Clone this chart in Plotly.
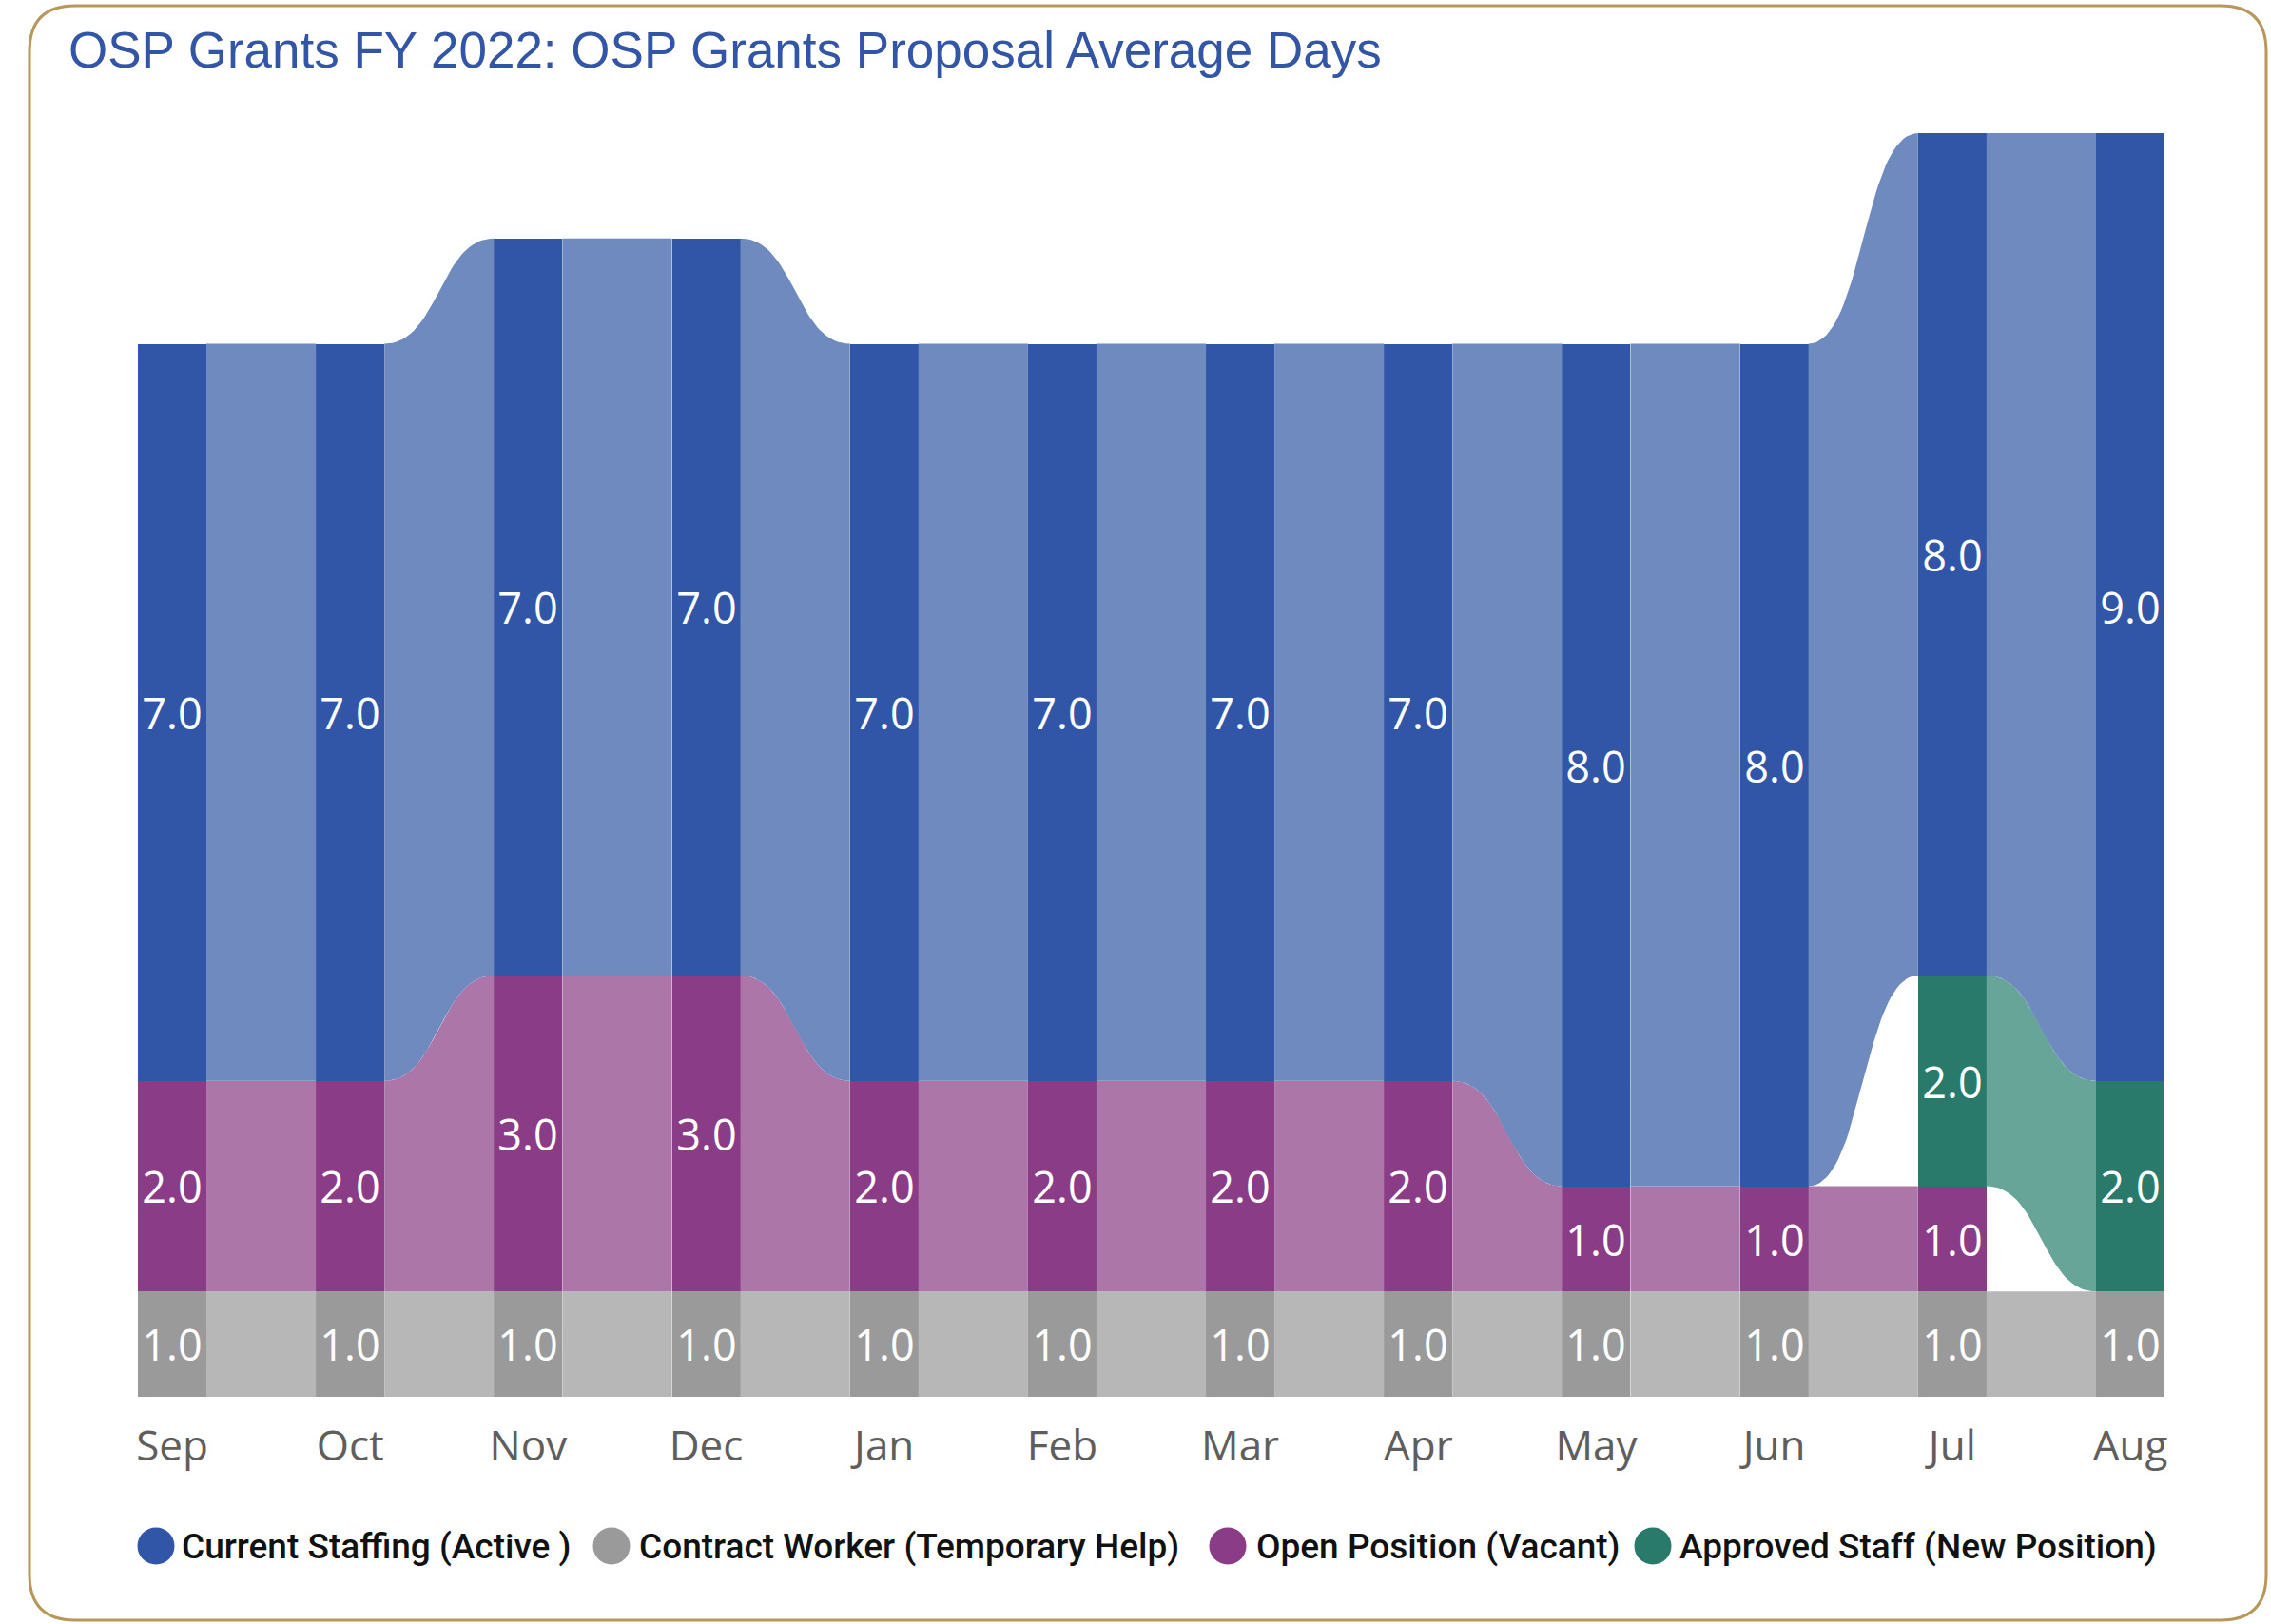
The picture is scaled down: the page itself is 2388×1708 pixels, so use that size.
import plotly.graph_objects as go

months = ["Sep", "Oct", "Nov", "Dec", "Jan", "Feb", "Mar", "Apr", "May", "Jun", "Jul", "Aug"]
contract_worker = [1, 1, 1, 1, 1, 1, 1, 1, 1, 1, 1, 1]
open_position = [2, 2, 3, 3, 2, 2, 2, 2, 1, 1, 1, None]
approved_staff = [None, None, None, None, None, None, None, None, None, None, 2, 2]
current_staffing = [7, 7, 7, 7, 7, 7, 7, 7, 8, 8, 8, 9]

series_names = ["Contract Worker (Temporary Help)", "Open Position (Vacant)",
                "Approved Staff (New Position)", "Current Staffing (Active )"]
series_values = [contract_worker, open_position, approved_staff, current_staffing]
bar_colors = ["#9A9A9A", "#8B3C86", "#2A7A6C", "#3256A7"]
ribbon_colors = ["#B7B7B7", "#AC76A9", "#66A598", "#6F8ABF"]

legend_order = [3, 0, 1, 2]

W, H = 2388, 1708
ML, MR, MT, MB = 145, 112, 140, 239
BW = 0.3846
n = len(months)

# stacking bases
bases = []
acc = [0.0] * n
for vals in series_values:
    b = acc[:]
    bases.append(b)
    acc = [acc[i] + (vals[i] or 0) for i in range(n)]


def bez(p0, p3, steps=40):
    (x0, y0), (x3, y3) = p0, p3
    xm = (x0 + x3) / 2
    c1, c2 = (xm, y0), (xm, y3)
    pts = []
    for k in range(steps + 1):
        u = k / steps
        a, b, c, d = (1 - u) ** 3, 3 * u * (1 - u) ** 2, 3 * u ** 2 * (1 - u), u ** 3
        pts.append((a * x0 + b * c1[0] + c * c2[0] + d * x3,
                    a * y0 + b * c1[1] + c * c2[1] + d * y3))
    return pts


fig = go.Figure()

# ribbons
for s, vals in enumerate(series_values):
    xs, ys = [], []
    for i in range(n - 1):
        if not vals[i] or not vals[i + 1]:
            continue
        xa, xb = i + BW / 2, i + 1 - BW / 2
        b0, b1 = bases[s][i], bases[s][i + 1]
        t0, t1 = b0 + vals[i], b1 + vals[i + 1]
        top = bez((xa, t0), (xb, t1))
        bot = bez((xb, b1), (xa, b0))
        pts = top + bot
        xs += [p[0] for p in pts] + [None]
        ys += [p[1] for p in pts] + [None]
    if xs:
        fig.add_trace(go.Scatter(x=xs, y=ys, mode="lines", fill="toself",
                                 fillcolor=ribbon_colors[s], line=dict(width=0),
                                 hoverinfo="skip", showlegend=False))

# bars
for s, vals in enumerate(series_values):
    fig.add_trace(go.Bar(
        x=list(range(n)), y=vals, width=BW, name=series_names[s],
        marker=dict(color=bar_colors[s], line=dict(width=0)),
        texttemplate="%{y:.1f}", textposition="inside", insidetextanchor="middle",
        textangle=0, constraintext="none",
        textfont=dict(family="Open Sans", size=45, color="white"),
        showlegend=False))

pw = W - ML - MR
ph = H - MT - MB


def px(X):
    return (X - ML) / pw


def py(Y):
    return (H - MB - Y) / ph


# border with rounded corners
x0, x1, y0, y1, r = 31, 2383, 6, 1704, 48
path = (f"M {px(x0 + r)},{py(y0)} L {px(x1 - r)},{py(y0)} Q {px(x1)},{py(y0)} {px(x1)},{py(y0 + r)} "
        f"L {px(x1)},{py(y1 - r)} Q {px(x1)},{py(y1)} {px(x1 - r)},{py(y1)} "
        f"L {px(x0 + r)},{py(y1)} Q {px(x0)},{py(y1)} {px(x0)},{py(y1 - r)} "
        f"L {px(x0)},{py(y0 + r)} Q {px(x0)},{py(y0)} {px(x0 + r)},{py(y0)} Z")
shapes = [dict(type="path", path=path, xref="paper", yref="paper",
               line=dict(color="#B8975A", width=3), fillcolor="rgba(0,0,0,0)", layer="below")]

# custom legend
leg_cx = [164, 643, 1291, 1738]
leg_tx = [189, 670, 1319, 1764]
leg_y = 1626
rad = 19.5
annotations = []
for k, s in enumerate(legend_order):
    shapes.append(dict(type="circle", xref="paper", yref="paper",
                       x0=px(leg_cx[k] - rad), x1=px(leg_cx[k] + rad),
                       y0=py(leg_y + rad), y1=py(leg_y - rad),
                       fillcolor=bar_colors[s], line=dict(width=0)))
    annotations.append(dict(text=series_names[s], xref="paper", yref="paper",
                            x=px(leg_tx[k]), y=py(leg_y), xanchor="left", yanchor="middle",
                            showarrow=False,
                            font=dict(family="Roboto", size=37, color="#111111", weight=500)))

fig.update_layout(
    width=W, height=H, autosize=False,
    margin=dict(l=ML, r=MR, t=MT, b=MB, pad=0),
    paper_bgcolor="white", plot_bgcolor="white",
    barmode="stack", bargap=0,
    showlegend=False,
    title=dict(text="OSP Grants FY 2022: OSP Grants Proposal Average Days",
               font=dict(family="Liberation Sans, Arial", size=53, color="#3355A6"),
               x=72 / W, xref="container", xanchor="left",
               y=1 - 52 / H, yref="container", yanchor="middle"),
    xaxis=dict(range=[-BW / 2, n - 1 + BW / 2], tickvals=list(range(n)), ticktext=months,
               showgrid=False, zeroline=False, showline=False, ticks="",
               ticklabelstandoff=22,
               tickfont=dict(family="Open Sans", size=44, color="#605E5C")),
    yaxis=dict(range=[0, 12], visible=False, showgrid=False, zeroline=False),
    shapes=shapes, annotations=annotations,
)

fig.write_html("out.html", config={"displayModeBar": False},
               post_script="document.body.style.margin='0';document.body.style.overflow='hidden';")
